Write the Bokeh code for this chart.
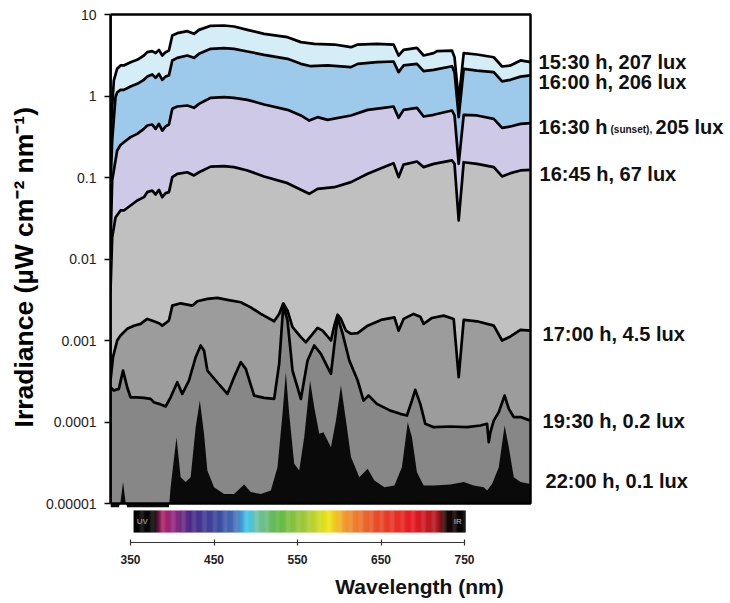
import numpy as np
from bokeh.plotting import figure
from bokeh.models import Range1d, FixedTicker, CustomJSTickFormatter, Label, BoxAnnotation
from bokeh.embed import file_html
from bokeh.resources import INLINE

# ------------------------------------------------------------------ data
wl_1530 = [326, 328, 330, 334, 338, 342, 350, 358, 366, 370, 376, 380, 384, 388, 392, 396, 400, 406, 418, 426,
           432, 446, 462, 474, 490, 510, 538, 554, 570, 594, 614, 622, 645, 665, 671, 677, 693, 701, 713, 717,
           735, 738, 743, 749, 765, 785, 795, 805, 817, 829]
irr_1530 = [0.3, 0.73, 1.55, 2.16, 2.37, 2.37, 2.60, 2.78, 3.14, 3.45, 3.55, 3.36, 3.68, 3.14, 3.45, 3.61, 5.52, 5.90, 6.25, 5.79,
            6.48, 7.26, 7.33, 7.13, 6.48, 5.79, 5.27, 4.58, 4.37, 4.28, 3.97, 4.28, 4.37, 4.28, 3.14, 3.68, 3.90, 3.14, 3.36, 3.55,
            3.61, 2.99, 0.88, 3.36, 3.23, 2.99, 2.30, 2.37, 2.73, 2.60]

wl_1600 = [326, 328, 332, 334, 338, 342, 350, 358, 366, 370, 376, 380, 384, 388, 392, 396, 400, 406, 418, 426,
           432, 446, 462, 474, 490, 510, 538, 554, 566, 586, 614, 622, 645, 665, 671, 677, 693, 701, 713, 735,
           738, 743, 749, 765, 785, 795, 805, 817, 829]
irr_1600 = [0.08, 0.284, 0.97, 1.11, 1.19, 1.19, 1.31, 1.41, 1.58, 1.73, 1.84, 1.67, 1.87, 1.58, 1.73, 1.79, 2.73, 2.94, 3.14, 2.94,
            3.29, 3.79, 3.86, 3.79, 3.52, 3.20, 2.86, 2.48, 2.32, 2.37, 2.26, 2.48, 2.60, 2.65, 1.96, 2.37, 2.48, 2.02, 2.09, 2.32,
            1.96, 0.55, 2.15, 2.05, 1.96, 1.51, 1.58, 1.73, 1.79]

wl_1630 = [326, 328, 334, 338, 342, 350, 358, 366, 370, 376, 380, 384, 388, 392, 396, 400, 406, 418, 426, 432,
           446, 462, 474, 490, 510, 538, 554, 564, 574, 586, 614, 634, 653, 665, 671, 677, 693, 701, 713, 735,
           738, 743, 749, 765, 785, 795, 805, 817, 829]
irr_1630 = [0.015, 0.092, 0.214, 0.25, 0.271, 0.313, 0.343, 0.395, 0.435, 0.447, 0.395, 0.455, 0.377, 0.423, 0.447, 0.696, 0.743, 0.764, 0.716, 0.801,
            0.950, 0.968, 0.950, 0.897, 0.787, 0.676, 0.577, 0.500, 0.550, 0.510, 0.577, 0.676, 0.716, 0.743, 0.540, 0.676, 0.716, 0.560, 0.588, 0.664,
            0.577, 0.147, 0.588, 0.577, 0.525, 0.407, 0.423, 0.455, 0.464]

wl_1645 = [326, 328, 332, 338, 342, 350, 358, 366, 370, 376, 380, 384, 388, 392, 396, 400, 406, 418, 426, 432,
           446, 462, 474, 490, 510, 538, 554, 564, 574, 594, 614, 634, 653, 665, 671, 677, 693, 701, 713, 735,
           738, 743, 749, 765, 785, 795, 805, 817, 829]
irr_1645 = [0.004, 0.0184, 0.0323, 0.0394, 0.0394, 0.0453, 0.0522, 0.0574, 0.0661, 0.0692, 0.0619, 0.0706, 0.0574, 0.0643, 0.0661, 0.101, 0.111, 0.116, 0.106, 0.116,
            0.136, 0.138, 0.134, 0.122, 0.103, 0.0852, 0.0706, 0.0631, 0.0726, 0.0760, 0.0877, 0.111, 0.134, 0.150, 0.101, 0.144, 0.157, 0.134, 0.147, 0.162,
            0.147, 0.0297, 0.154, 0.147, 0.134, 0.103, 0.113, 0.122, 0.124]

wl_1700 = [326, 329, 334, 338, 346, 354, 362, 370, 378, 384, 388, 392, 396, 400, 410, 424, 430, 442, 454, 466,
           482, 494, 506, 522, 528, 533, 538, 544, 554, 560, 574, 580, 590, 594, 598, 602, 608, 614, 622, 634,
           650, 666, 671, 677, 689, 697, 701, 711, 725, 737, 743, 749, 765, 785, 795, 805, 817, 829]
irr_1700 = [0.000323, 0.000624, 0.00100, 0.00115, 0.00139, 0.00152, 0.00160, 0.00184, 0.00172, 0.00163,
            0.00152, 0.00163, 0.00176, 0.00268, 0.00286, 0.00268, 0.00303, 0.00324, 0.00333, 0.00315,
            0.00295, 0.00255, 0.00212, 0.00172, 0.00212, 0.00286, 0.00232, 0.00146, 0.00110, 0.000953,
            0.00143, 0.00132, 0.00100, 0.00152, 0.00207, 0.00184, 0.00132, 0.00121, 0.00123, 0.00152,
            0.00179, 0.00192, 0.00132, 0.00184, 0.00212, 0.00196, 0.00160, 0.00189, 0.00202, 0.00184,
            0.000355, 0.00179, 0.00172, 0.00152, 0.00100, 0.00112, 0.00135, 0.00132]

wl_1930 = [326, 330, 336, 341, 346, 350, 358, 366, 374, 378, 384, 392, 398, 406, 412, 420, 428, 434, 438, 442,
           452, 466, 474, 482, 488, 498, 510, 522, 528, 533, 538, 544, 554, 562, 570, 578, 590, 598, 604, 612,
           622, 629, 635, 645, 661, 673, 681, 687, 691, 697, 703, 713, 733, 753, 769, 777, 779, 781, 785, 791,
           798, 803, 809, 817, 829]
irr_1930 = [0.000267, 0.000243, 0.000255, 0.000428, 0.000267, 0.000201, 0.000201, 0.000198, 0.000192, 0.000175,
            0.000167, 0.000155, 0.000201, 0.000308, 0.000221, 0.000323, 0.000624, 0.000869, 0.000754, 0.000428,
            0.000323, 0.000221, 0.000355, 0.000542, 0.000449, 0.000211, 0.000198, 0.000192, 0.000517, 0.00270,
            0.00176, 0.000428, 0.000192, 0.000568, 0.000869, 0.000686, 0.000390, 0.00192, 0.00121, 0.000568,
            0.000323, 0.000183, 0.000211, 0.000167, 0.000138, 0.000126, 0.000120, 0.000183, 0.000248, 0.000167,
            0.0000950, 0.0000865, 0.0000881, 0.0000865, 0.0000906, 0.0000950, 0.0000566, 0.0000751, 0.000104, 0.000132,
            0.000211, 0.000145, 0.000115, 0.000115, 0.000104]

wl_2200 = [326, 336, 338, 341, 344, 346, 396, 398, 405, 410, 416, 422, 428, 433, 438, 442, 450, 462, 474, 486,
           494, 506, 518, 526, 532, 536, 540, 546, 552, 558, 565, 570, 576, 581, 590, 596, 602, 608, 614, 624,
           634, 642, 654, 666, 675, 682, 687, 693, 701, 713, 733, 749, 761, 773, 777, 783, 791, 798, 803, 809,
           817, 829]
irr_2200 = [0.000009, 0.000009, 0.0000105, 0.0000183, 0.0000105, 0.000009, 0.000009, 0.0000158, 0.0000652, 0.0000210,
            0.0000183, 0.0000210, 0.0000865, 0.000183, 0.0000716, 0.0000254, 0.0000158, 0.0000131, 0.0000131, 0.0000171,
            0.0000138, 0.0000131, 0.0000144, 0.0000279, 0.000126, 0.000409, 0.000126, 0.0000307, 0.0000254, 0.0000652,
            0.000323, 0.000152, 0.0000716, 0.0000751, 0.0000491, 0.000104, 0.000280, 0.000104, 0.0000371, 0.0000210,
            0.0000266, 0.0000191, 0.0000158, 0.0000166, 0.0000279, 0.0000995, 0.0000652, 0.0000242, 0.0000166, 0.0000166,
            0.0000171, 0.0000183, 0.0000166, 0.0000158, 0.0000144, 0.0000174, 0.0000279, 0.0000906, 0.0000491, 0.0000210,
            0.0000183, 0.0000174]

series_labels = ["15:30 h, 207 lux", "16:00 h, 206 lux", "16:30 h", "16:45 h, 67 lux",
                 "17:00 h, 4.5 lux", "19:30 h, 0.2 lux", "22:00 h, 0.1 lux"]
sunset_note = "(sunset),"
lux_1630 = "205 lux"

y_ticks = [0.00001, 0.0001, 0.001, 0.01, 0.1, 1, 10]
y_tick_labels = ["0.00001", "0.0001", "0.001", "0.01", "0.1", "1", "10"]
x_ticks = [350, 450, 550, 650, 750]
x_limits = [326, 829]

# ------------------------------------------------------------------ geometry / styles
FONT = "Liberation Sans"
W, H = 728, 600
LEFT, TOP, BOTTOM_PANEL = 110, 10, 58
PX_PER_DECADE = 81.5          # vertical scale of the log axis
PX_PER_NM = 0.835             # horizontal scale
Y10_PX = 14                   # canvas y of the "10" tick
frame_bottom_px = H - BOTTOM_PANEL


def px_to_y(py):
    return 10 ** (1 - (py - Y10_PX) / PX_PER_DECADE)


x_right = x_limits[0] + (W - LEFT) / PX_PER_NM

fills = ["#d4edf7", "#9dc9ea", "#cdc9e7", "#c0c0c0", "#9c9c9c", "#878787", "#0a0a0a"]
has_line = [True, True, True, True, True, True, False]
label_dx = [8, 8, 8, 9, 12, 12, 15]
label_dy = [0, -7, -4, -4, -3, 0, 3]

spec_stop_wl = [353.6, 377.5, 388.3, 403.9, 421.9, 454.2, 475.7, 490.1, 502.0, 526.0,
                562.0, 587.1, 609.9, 645.8, 685.3, 717.7, 727.2, 751.0]
spec_stop_col = ["#000000", "#0a0a0a", "#b0226a", "#8a2a80", "#4a2a8a", "#3a4aa0", "#4a70b8", "#40c8f0",
                 "#70c0a0", "#60b848", "#a8cc38", "#f0e418", "#f09030", "#e84a2a", "#e81c24", "#b01820",
                 "#200808", "#000000"]

series = [(wl_1530, irr_1530), (wl_1600, irr_1600), (wl_1630, irr_1630), (wl_1645, irr_1645),
          (wl_1700, irr_1700), (wl_1930, irr_1930), (wl_2200, irr_2200)]

# ------------------------------------------------------------------ figure
p = figure(width=W, height=H,
           x_range=Range1d(x_limits[0], x_right),
           y_range=Range1d(px_to_y(frame_bottom_px), px_to_y(TOP)),
           y_axis_type="log", toolbar_location=None, output_backend="svg",
           min_border_left=LEFT, min_border_right=0, min_border_top=TOP,
           min_border_bottom=BOTTOM_PANEL)
p.grid.visible = False
p.outline_line_color = None
p.background_fill_color = "white"
p.border_fill_color = "white"

base = y_ticks[0]
for (wl, irr), col in zip(series, fills):
    p.varea(x=wl, y1=[base] * len(wl), y2=irr, fill_color=col)
for (wl, irr), ln in zip(series, has_line):
    if ln:
        p.line(wl, irr, line_color="black", line_width=2.7, line_join="round")

# plot box (top, right, bottom edges); the left edge is the y axis line
p.add_layout(BoxAnnotation(left=x_limits[0], right=x_limits[1], bottom=y_ticks[0], top=y_ticks[-1],
                           fill_color=None, fill_alpha=0, line_color="black", line_alpha=1.0,
                           line_width=2.5))

ya = p.yaxis[0]
ya.ticker = FixedTicker(ticks=y_ticks, minor_ticks=[])
ya.bounds = (y_ticks[0], y_ticks[-1])
ya.formatter = CustomJSTickFormatter(args=dict(tv=y_ticks, labels=y_tick_labels), code="""
let best = 0, d = Infinity;
for (let i = 0; i < tv.length; i++) {
  const e = Math.abs(Math.log10(tv[i]) - Math.log10(tick));
  if (e < d) { d = e; best = i; }
}
return labels[best];
""")
ya.axis_line_color = "black"
ya.axis_line_width = 2.5
ya.major_tick_in = 0
ya.major_tick_out = 6
ya.major_tick_line_width = 1.5
ya.major_tick_line_color = "black"
ya.minor_tick_line_color = None
ya.major_label_text_font = FONT
ya.major_label_text_font_size = "14px"
ya.major_label_text_color = "#222222"
ya.major_label_standoff = 8
ya.axis_label = "\u2002\u2009" + "Irradiance (µW cm⁻² nm⁻¹)"
ya.axis_label_text_font = FONT
ya.axis_label_text_font_size = "26.5px"
ya.axis_label_text_font_style = "bold"
ya.axis_label_text_color = "black"
ya.axis_label_standoff = 4

for i, (wl, irr) in enumerate(series):
    common = dict(x=wl[-1], y=irr[-1], text_font=FONT, text_font_style="bold",
                  text_color="#111111", text_baseline="middle")
    if i == 2:
        p.add_layout(Label(text=series_labels[i], x_offset=label_dx[i], y_offset=label_dy[i],
                           text_font_size="20px", **common))
        p.add_layout(Label(text=sunset_note, x_offset=80, y_offset=label_dy[i] - 2,
                           text_font_size="10px", **common))
        p.add_layout(Label(text=lux_1630, x_offset=125, y_offset=label_dy[i],
                           text_font_size="20px", **common))
    else:
        p.add_layout(Label(text=series_labels[i], x_offset=label_dx[i], y_offset=label_dy[i],
                           text_font_size="20px", **common))

# ------------------------------------------------------------------ spectrum bar
edges = np.linspace(spec_stop_wl[0], spec_stop_wl[-1], 301)
mids = (edges[:-1] + edges[1:]) / 2
rgb = np.array([[int(c[k:k + 2], 16) for k in (1, 3, 5)] for c in spec_stop_col], dtype=float)
chans = [np.interp(mids, spec_stop_wl, rgb[:, k]) for k in range(3)]
bar_cols = ["#%02x%02x%02x" % (int(r), int(g), int(bb)) for r, g, bb in zip(*chans)]
p.quad(left=edges[:-1], right=edges[1:] + 0.4, bottom=px_to_y(532), top=px_to_y(510),
       fill_color=bar_cols, line_color=None)
p.add_layout(Label(x=364, y=px_to_y(521), text="UV", text_font=FONT, text_font_size="8px",
                   text_font_style="bold", text_color="#8a8a8a", text_align="center", text_baseline="middle"))
p.add_layout(Label(x=742, y=px_to_y(521), text="IR", text_font=FONT, text_font_size="8px",
                   text_font_style="bold", text_color="#8a8a8a", text_align="center", text_baseline="middle"))

# ------------------------------------------------------------------ wavelength axis
xa = p.xaxis[0]
xa.ticker = FixedTicker(ticks=x_ticks, minor_ticks=[])
xa.bounds = (x_ticks[0], x_ticks[-1])
xa.axis_line_color = "#333333"
xa.axis_line_width = 1.2
xa.major_tick_in = 3
xa.major_tick_out = 3
xa.major_tick_line_color = "#333333"
xa.major_tick_line_width = 1.2
xa.minor_tick_line_color = None
xa.major_label_text_font = FONT
xa.major_label_text_font_size = "12px"
xa.major_label_text_font_style = "bold"
xa.major_label_text_color = "#222222"
xa.major_label_standoff = 9
xa.axis_label = "Wavelength (nm)"
xa.axis_label_text_font = FONT
xa.axis_label_text_font_size = "21px"
xa.axis_label_text_font_style = "bold"
xa.axis_label_text_color = "#111111"
xa.axis_label_standoff = 8

open("out.html", "w").write(file_html(p, INLINE))
